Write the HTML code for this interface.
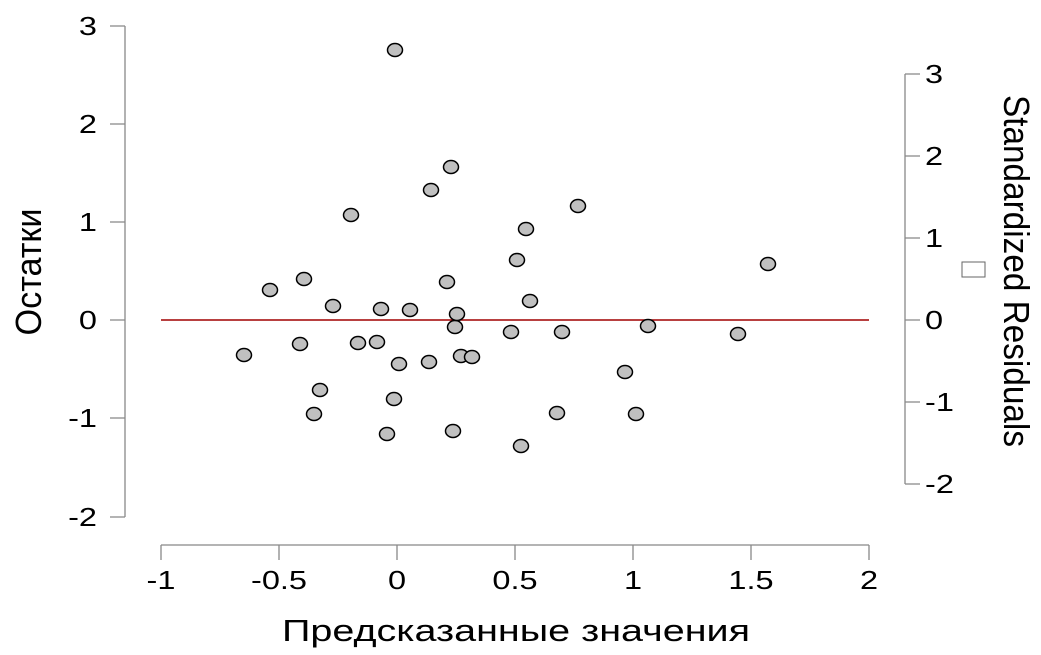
<!DOCTYPE html>
<html><head><meta charset="utf-8"><style>body{margin:0;background:#fff}svg{display:block}text{font-family:"Liberation Sans",sans-serif;fill:#000}</style></head>
<body>
<svg width="1041" height="655" viewBox="0 0 1041 655" xmlns="http://www.w3.org/2000/svg">
<g stroke="#888" stroke-width="1.3" fill="none">
<path d="M125 26V517M125 26H110M125 124H110M125 222H110M125 320H110M125 418H110M125 517H110"/>
<path d="M161 545H869M161 545V560M279 545V560M397 545V560M515 545V560M633 545V560M751 545V560M869 545V560"/>
<path d="M905 74V484M905 74H920M905 156H920M905 238H920M905 320H920M905 402H920M905 484H920"/>
</g>
<g font-size="26" text-anchor="end">
<text transform="translate(97,35) scale(1.25,1)">3</text><text transform="translate(97,133) scale(1.25,1)">2</text><text transform="translate(97,231) scale(1.25,1)">1</text><text transform="translate(97,329) scale(1.25,1)">0</text><text transform="translate(97,427) scale(1.25,1)">-1</text><text transform="translate(97,526) scale(1.25,1)">-2</text>
</g>
<g font-size="26" text-anchor="middle">
<text transform="translate(161,589) scale(1.25,1)">-1</text><text transform="translate(279,589) scale(1.25,1)">-0.5</text><text transform="translate(397,589) scale(1.25,1)">0</text><text transform="translate(515,589) scale(1.25,1)">0.5</text><text transform="translate(633,589) scale(1.25,1)">1</text><text transform="translate(751,589) scale(1.25,1)">1.5</text><text transform="translate(869,589) scale(1.25,1)">2</text>
</g>
<g font-size="26">
<text transform="translate(925,83) scale(1.25,1)">3</text><text transform="translate(925,165) scale(1.25,1)">2</text><text transform="translate(925,247) scale(1.25,1)">1</text><text transform="translate(925,329) scale(1.25,1)">0</text><text transform="translate(925,411) scale(1.25,1)">-1</text><text transform="translate(925,493) scale(1.25,1)">-2</text>
</g>
<text x="516" y="641" font-size="31" text-anchor="middle" textLength="468" lengthAdjust="spacingAndGlyphs">Предсказанные значения</text>
<text transform="translate(41,272) rotate(-90)" font-size="36" text-anchor="middle" textLength="127" lengthAdjust="spacingAndGlyphs">Остатки</text>
<text transform="translate(1004,271) rotate(90)" font-size="36" text-anchor="middle" textLength="352" lengthAdjust="spacingAndGlyphs">Standardized Residuals</text>
<rect x="962" y="262" width="23" height="15" fill="none" stroke="#666" stroke-width="1"/>
<line x1="161" y1="320" x2="869" y2="320" stroke="#a00000" stroke-width="1.6"/>
<g fill="#c0c0c0" stroke="#000" stroke-width="1.5">
<ellipse cx="244" cy="355" rx="7.5" ry="6.5"/><ellipse cx="270" cy="290" rx="7.5" ry="6.5"/><ellipse cx="300" cy="344" rx="7.5" ry="6.5"/><ellipse cx="304" cy="279" rx="7.5" ry="6.5"/><ellipse cx="314" cy="414" rx="7.5" ry="6.5"/><ellipse cx="320" cy="390" rx="7.5" ry="6.5"/><ellipse cx="333" cy="306" rx="7.5" ry="6.5"/><ellipse cx="351" cy="215" rx="7.5" ry="6.5"/><ellipse cx="358" cy="343" rx="7.5" ry="6.5"/><ellipse cx="377" cy="342" rx="7.5" ry="6.5"/><ellipse cx="381" cy="309" rx="7.5" ry="6.5"/><ellipse cx="387" cy="434" rx="7.5" ry="6.5"/><ellipse cx="394" cy="399" rx="7.5" ry="6.5"/><ellipse cx="395" cy="50" rx="7.5" ry="6.5"/><ellipse cx="399" cy="364" rx="7.5" ry="6.5"/><ellipse cx="410" cy="310" rx="7.5" ry="6.5"/><ellipse cx="429" cy="362" rx="7.5" ry="6.5"/><ellipse cx="431" cy="190" rx="7.5" ry="6.5"/><ellipse cx="447" cy="282" rx="7.5" ry="6.5"/><ellipse cx="451" cy="167" rx="7.5" ry="6.5"/><ellipse cx="453" cy="431" rx="7.5" ry="6.5"/><ellipse cx="455" cy="327" rx="7.5" ry="6.5"/><ellipse cx="457" cy="314" rx="7.5" ry="6.5"/><ellipse cx="461" cy="356" rx="7.5" ry="6.5"/><ellipse cx="472" cy="357" rx="7.5" ry="6.5"/><ellipse cx="511" cy="332" rx="7.5" ry="6.5"/><ellipse cx="517" cy="260" rx="7.5" ry="6.5"/><ellipse cx="521" cy="446" rx="7.5" ry="6.5"/><ellipse cx="526" cy="229" rx="7.5" ry="6.5"/><ellipse cx="530" cy="301" rx="7.5" ry="6.5"/><ellipse cx="557" cy="413" rx="7.5" ry="6.5"/><ellipse cx="562" cy="332" rx="7.5" ry="6.5"/><ellipse cx="578" cy="206" rx="7.5" ry="6.5"/><ellipse cx="625" cy="372" rx="7.5" ry="6.5"/><ellipse cx="636" cy="414" rx="7.5" ry="6.5"/><ellipse cx="648" cy="326" rx="7.5" ry="6.5"/><ellipse cx="738" cy="334" rx="7.5" ry="6.5"/><ellipse cx="768" cy="264" rx="7.5" ry="6.5"/>
</g>
</svg>
</body></html>
